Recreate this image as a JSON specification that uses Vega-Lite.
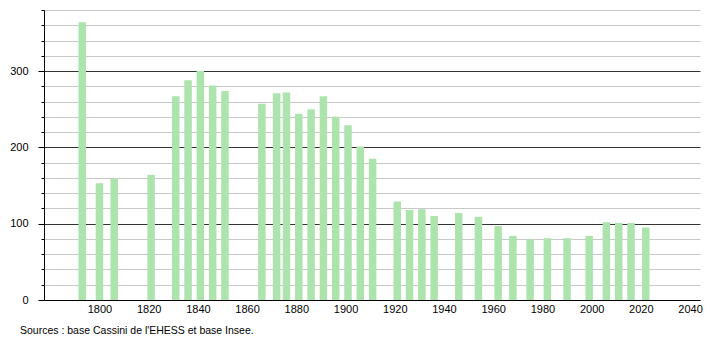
{
  "$schema": "https://vega.github.io/schema/vega-lite/v6.json",
  "autosize": "none",
  "width": 656,
  "height": 290,
  "padding": {"left": 44, "top": 10, "right": 10, "bottom": 40},
  "background": "white",
  "config": {
    "view": {"stroke": null},
    "font": "Liberation Sans"
  },
  "title": {
    "text": "Sources : base Cassini de l'EHESS et base Insee.",
    "orient": "bottom",
    "anchor": "start",
    "frame": "group",
    "dx": -24,
    "offset": 12,
    "fontSize": 10.5,
    "fontWeight": "normal",
    "color": "#000",
    "font": "Liberation Sans"
  },
  "data": {
    "values": [
      {"year": 1793, "pop": 364},
      {"year": 1800, "pop": 153},
      {"year": 1806, "pop": 159},
      {"year": 1821, "pop": 164},
      {"year": 1831, "pop": 267},
      {"year": 1836, "pop": 288},
      {"year": 1841, "pop": 300},
      {"year": 1846, "pop": 281},
      {"year": 1851, "pop": 274},
      {"year": 1866, "pop": 257},
      {"year": 1872, "pop": 271},
      {"year": 1876, "pop": 272},
      {"year": 1881, "pop": 244},
      {"year": 1886, "pop": 250},
      {"year": 1891, "pop": 267},
      {"year": 1896, "pop": 240},
      {"year": 1901, "pop": 229},
      {"year": 1906, "pop": 201},
      {"year": 1911, "pop": 185},
      {"year": 1921, "pop": 129},
      {"year": 1926, "pop": 118},
      {"year": 1931, "pop": 119},
      {"year": 1936, "pop": 110},
      {"year": 1946, "pop": 114},
      {"year": 1954, "pop": 109},
      {"year": 1962, "pop": 97},
      {"year": 1968, "pop": 84},
      {"year": 1975, "pop": 80},
      {"year": 1982, "pop": 81},
      {"year": 1990, "pop": 81},
      {"year": 1999, "pop": 84},
      {"year": 2006, "pop": 102},
      {"year": 2011, "pop": 101},
      {"year": 2016, "pop": 101},
      {"year": 2022, "pop": 95}
    ]
  },
  "mark": {"type": "bar", "size": 7.5, "color": "#ade3ad"},
  "encoding": {
    "x": {
      "field": "year",
      "type": "quantitative",
      "scale": {"domain": [1779.5, 2042], "nice": false, "zero": false},
      "axis": {
        "title": null,
        "values": [1800, 1820, 1840, 1860, 1880, 1900, 1920, 1940, 1960, 1980, 2000, 2020, 2040],
        "format": "d",
        "grid": false,
        "ticks": false,
        "domainColor": "#000",
        "domainWidth": 1,
        "labelFontSize": 11,
        "labelColor": "#000",
        "labelPadding": 3,
        "labelFont": "Liberation Sans",
        "labelOverlap": false
      }
    },
    "y": {
      "field": "pop",
      "type": "quantitative",
      "scale": {"domain": [0, 380], "nice": false},
      "axis": {
        "title": null,
        "values": [0, 20, 40, 60, 80, 100, 120, 140, 160, 180, 200, 220, 240, 260, 280, 300, 320, 340, 360, 380],
        "labelExpr": "datum.value % 100 === 0 ? datum.label : ''",
        "grid": true,
        "gridColor": {"condition": {"test": "datum.value % 100 === 0", "value": "#333333"}, "value": "#c8c8c8"},
        "gridWidth": 1,
        "tickColor": "#000",
        "tickSize": {"condition": {"test": "datum.value % 100 === 0", "value": 6}, "value": 3},
        "domainColor": "#000",
        "labelFontSize": 11,
        "labelColor": "#000",
        "labelPadding": 10,
        "labelFont": "Liberation Sans"
      }
    }
  }
}
